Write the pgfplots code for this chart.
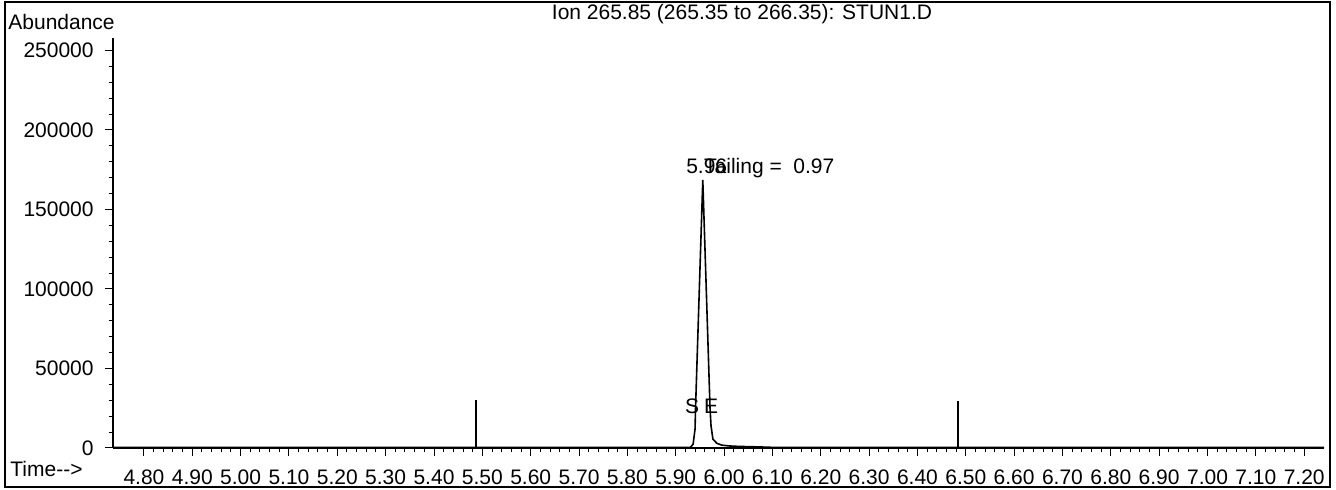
\documentclass[border=0pt]{standalone}
\usepackage{fontspec}
\setmainfont{Liberation Sans}
\usepackage{pgfplots}
\pgfplotsset{compat=1.18}
\begin{document}
\begin{tikzpicture}[font=\fontsize{10.5}{12}\selectfont]
\useasboundingbox (-56.5pt,-21pt) rectangle (611.5pt,224pt);
\draw[line width=1pt] (-54pt,-19.5pt) rectangle (608.5pt,223pt);
\begin{axis}[
  at={(0,0)}, anchor=south west,
  scale only axis, width=605.5pt, height=205pt,
  xmin=4.736, xmax=7.241, ymin=0, ymax=257800,
  axis x line*=bottom, axis y line*=left,
  axis line style={line width=1pt, -},
  xtick={4.8,4.9,5.0,5.1,5.2,5.3,5.4,5.5,5.6,5.7,5.8,5.9,6.0,6.1,6.2,6.3,6.4,6.5,6.6,6.7,6.8,6.9,7.0,7.1,7.2},
  ytick={0,50000,100000,150000,200000,250000},
  minor x tick num=4, minor y tick num=4,
  tick align=outside,
  major tick length=4pt, minor tick length=2.2pt,
  tick style={black, line width=0.5pt},
  scaled y ticks=false, scaled x ticks=false,
  /pgf/number format/assume math mode=true,
  xticklabel style={/pgf/number format/fixed, /pgf/number format/fixed zerofill, /pgf/number format/precision=2, anchor=base, inner sep=0pt, yshift=-14.5pt},
  yticklabel style={/pgf/number format/fixed, /pgf/number format/1000 sep={}, anchor=east, inner sep=0pt, xshift=-5.5pt},
  clip=false,
]
\addplot[black, line width=0.8pt, sharp plot] coordinates {
(4.736,300) (5.50,300) (5.90,300) (5.928,300) (5.931,500) (5.936,2500)
(5.940,12000) (5.941,25000) (5.956,168500) (5.971,25000) (5.973,14000)
(5.977,5500) (5.985,3000) (5.995,1800) (6.010,1300) (6.030,1000)
(6.070,700) (6.100,400) (7.241,300)
};
\addplot[black, line width=1pt, ycomb, no markers] coordinates {
(5.487,30200) (6.484,29400)
};
\node[anchor=base west, inner sep=0pt] at (axis cs:5.921,172900) {5.96};
\node[anchor=base west, inner sep=0pt] at (axis cs:5.958,172900) {Tailing = \ 0.97};
\node[anchor=base, inner sep=0pt] at (axis cs:5.934,22000) {S};
\node[anchor=base, inner sep=0pt] at (axis cs:5.973,22000) {E};
\end{axis}
\node[anchor=base, inner sep=0pt] at (314.5pt,214pt) {Ion 265.85 (265.35 to 266.35): STUN1.D};
\node[anchor=base west, inner sep=0pt] at (-52.5pt,209pt) {Abundance};
\node[anchor=base west, inner sep=0pt] at (-51.5pt,-14.5pt) {Time-{}-{}>};
\end{tikzpicture}
\end{document}
